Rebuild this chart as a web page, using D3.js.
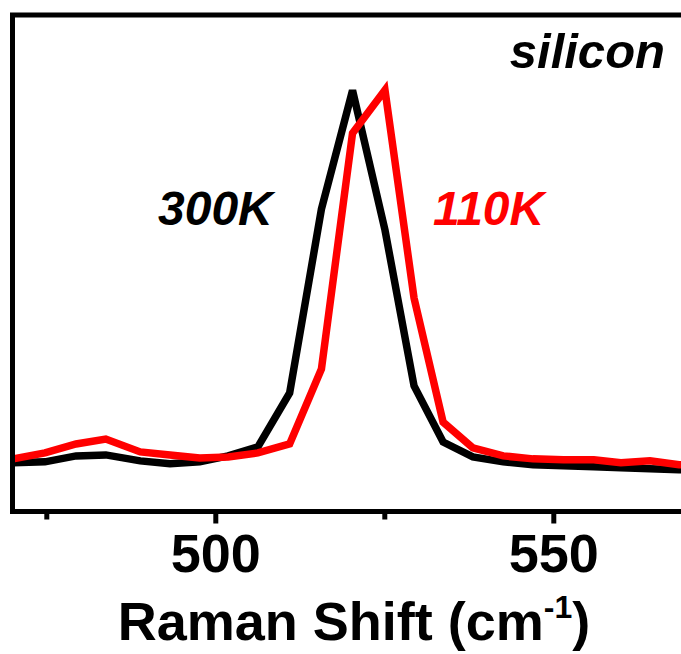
<!DOCTYPE html>
<html lang="en">
<head>
    <meta charset="UTF-8">
    <title>Silicon Raman spectrum, 300K vs 110K</title>
    <script src="https://d3js.org/d3.v7.min.js"></script>
    <style>
        body {
            margin: 0;
            background: #fff;
            font-family: "Liberation Sans", Arial, sans-serif;
        }
        svg {
            display: block;
        }
    </style>
</head>
<body>
    <svg width="681" height="654"></svg>

    <script>
        // Raman shift (cm-1), shared by both spectra
        const shift = [470.1, 474.8, 479.4, 483.8, 488.9, 493.3, 497.7, 501.9, 506.3, 511.0,
                       515.7, 520.3, 525.1, 529.4, 533.7, 538.1, 542.6, 547.0, 551.5, 556.0,
                       560.0, 564.3, 568.6, 572.0];
        // intensity, arbitrary units
        const i300K = [9.8, 10.0, 11.2, 11.4, 10.2, 9.6, 10.0, 11.2, 13.0, 23.9,
                       60.9, 84.8, 56.7, 25.3, 14.0, 11.0, 10.0, 9.4, 9.2, 9.0,
                       8.8, 8.6, 8.4, 8.3];
        const i110K = [10.6, 11.8, 13.6, 14.6, 12.0, 11.4, 10.8, 11.0, 11.8, 13.6,
                       28.7, 76.2, 84.9, 43.0, 18.0, 12.8, 11.2, 10.6, 10.4, 10.4,
                       9.8, 10.2, 9.4, 9.3];
        const majorTicks = [500, 550];
        const minorTicks = [475, 525];

        const svg = d3.select("svg");
        const margin = { top: 15, left: 12.5 };
        const plotWidth = 676;
        const plotHeight = 496.5;

        const x = d3.scaleLinear().domain([470, 570]).range([0, plotWidth]);
        const y = d3.scaleLinear().domain([0, 100]).range([plotHeight, 0]);

        const g = svg.append("g")
            .attr("transform", `translate(${margin.left},${margin.top})`);

        const line = d3.line()
            .x(d => x(d[0]))
            .y(d => y(d[1]));

        const series = [
            { name: "300K", values: i300K, color: "#000" },
            { name: "110K", values: i110K, color: "#ff0000" }
        ];

        series.forEach(s => {
            g.append("path")
                .datum(shift.map((v, i) => [v, s.values[i]]))
                .attr("d", line)
                .attr("fill", "none")
                .attr("stroke", s.color)
                .attr("stroke-width", 7.5)
                .attr("stroke-linejoin", "miter");
        });

        // frame
        g.append("rect")
            .attr("width", plotWidth)
            .attr("height", plotHeight)
            .attr("fill", "none")
            .attr("stroke", "#000")
            .attr("stroke-width", 5);

        // bottom axis
        const xAxis = g.append("g")
            .attr("transform", `translate(0,${plotHeight})`)
            .call(d3.axisBottom(x).tickValues(majorTicks).tickSize(12).tickPadding(10).tickFormat(d3.format("d")));
        xAxis.select(".domain").remove();
        xAxis.selectAll(".tick line").attr("stroke-width", 5);
        xAxis.selectAll(".tick text")
            .attr("font-family", "'Liberation Sans', Arial, sans-serif")
            .attr("font-size", 54)
            .attr("font-weight", "bold")
            .attr("fill", "#000");

        g.append("g")
            .attr("transform", `translate(0,${plotHeight})`)
            .call(d3.axisBottom(x).tickValues(minorTicks).tickSize(8).tickFormat(""))
            .call(a => a.select(".domain").remove())
            .selectAll(".tick line").attr("stroke-width", 5);

        // axis title
        const title = svg.append("text")
            .attr("x", 354)
            .attr("y", 640)
            .attr("text-anchor", "middle")
            .attr("font-size", 54)
            .attr("font-weight", "bold")
            .attr("fill", "#000");
        title.append("tspan").text("Raman Shift (cm");
        title.append("tspan").attr("dy", -22).attr("font-size", 32).text("-1");
        title.append("tspan").attr("dy", 22).text(")");

        // annotations
        svg.append("text")
            .attr("x", 665).attr("y", 68)
            .attr("text-anchor", "end")
            .attr("font-size", 49)
            .attr("font-weight", "bold")
            .attr("font-style", "italic")
            .text("silicon");

        svg.append("text")
            .attr("x", 158).attr("y", 225)
            .attr("font-size", 48)
            .attr("font-weight", "bold")
            .attr("font-style", "italic")
            .attr("fill", "#000")
            .text("300K");

        svg.append("text")
            .attr("x", 433).attr("y", 225)
            .attr("font-size", 48)
            .attr("font-weight", "bold")
            .attr("font-style", "italic")
            .attr("fill", "#ff0000")
            .text("110K");
    </script>
</body>
</html>
